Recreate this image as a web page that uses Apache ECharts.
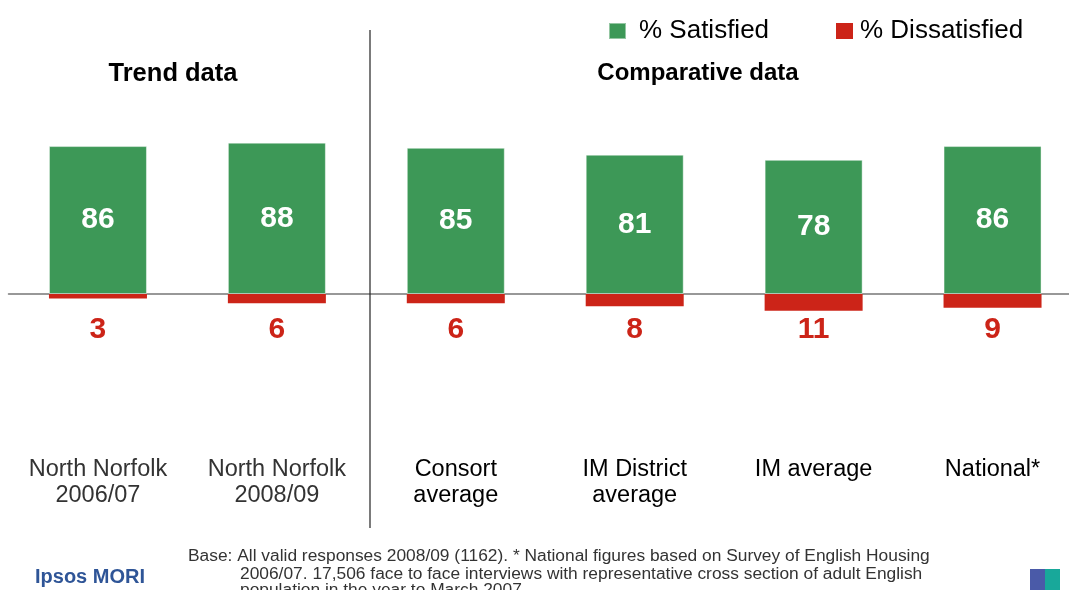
<!DOCTYPE html>
<html>
<head>
<meta charset="utf-8">
<script src="https://cdn.jsdelivr.net/npm/echarts@6/dist/echarts.min.js"></script>
<style>
  html, body { margin: 0; padding: 0; background: #fff; overflow: hidden; }
  /* the plot runs a little past the right edge of the window */
  #chart { width: 1082px; height: 590px; }
</style>
</head>
<body>
<div id="chart"></div>
<script>
// Satisfaction with the landlord: trend and comparative figures
const categories = [
  'North Norfolk\n2006/07',
  'North Norfolk\n2008/09',
  'Consort\naverage',
  'IM District\naverage',
  'IM average',
  'National*'
];
const satisfied = [86, 88, 85, 81, 78, 86];
const dissatisfied = [3, 6, 6, 8, 11, 9];
const trendCount = 2; // the first two categories are the trend group

const GREEN = '#3d9857';
const RED = '#cc2418';
const FONT = 'Liberation Sans, Arial, sans-serif';

// the dissatisfied bars use a slightly tighter vertical scale than the satisfied ones
const mainMin = -30, mainMax = 100;
const redRatio = 1.53 / 1.72;
const redLabelLevel = -21;

const chart = echarts.init(document.getElementById('chart'));

chart.setOption({
  animation: false,
  backgroundColor: '#ffffff',
  textStyle: { fontFamily: FONT },
  title: [
    { text: 'Trend data', left: 168, top: 56, textAlign: 'center',
      textStyle: { fontSize: 25.5, fontWeight: 'bold', color: '#000', fontFamily: FONT } },
    { text: 'Comparative data', left: 693, top: 56, textAlign: 'center',
      textStyle: { fontSize: 24, fontWeight: 'bold', color: '#000', fontFamily: FONT } }
  ],
  legend: [
    { data: ['% Satisfied'], left: 603, top: 13, icon: 'rect', itemWidth: 17, itemHeight: 16,
      textStyle: { fontSize: 26, color: '#000', padding: [0, 0, 0, 8], fontFamily: FONT } },
    { data: ['% Dissatisfied'], left: 831, top: 13, icon: 'rect', itemWidth: 17, itemHeight: 16,
      textStyle: { fontSize: 26, color: '#000', padding: [0, 0, 0, 2], fontFamily: FONT } }
  ],
  grid: { left: 8.5, top: 122, right: 0, height: 223.6, containLabel: false },
  xAxis: {
    type: 'category',
    data: categories.map((c, i) => ({
      value: c,
      textStyle: { color: i < trendCount ? '#333' : '#000' }
    })),
    axisLine: { onZero: true, lineStyle: { color: '#777', width: 1.5 } },
    axisTick: { show: false },
    axisLabel: {
      margin: 111,
      fontSize: 23.5,
      lineHeight: 26,
      fontFamily: FONT,
      interval: 0
    },
    splitLine: { show: false }
  },
  yAxis: [
    { type: 'value', min: mainMin, max: mainMax, show: false, splitLine: { show: false } },
    { type: 'value', min: mainMin / redRatio, max: mainMax / redRatio, show: false, splitLine: { show: false } }
  ],
  graphic: [
    { type: 'line', shape: { x1: 370, y1: 30, x2: 370, y2: 528 },
      style: { stroke: '#222', lineWidth: 1.2 }, z: 10 },
    { type: 'text', x: 188, y: 549, scaleX: 1.085,
      style: { text: 'Base: All valid responses 2008/09 (1162). * National figures based on Survey of English Housing',
        font: '16px ' + FONT, fill: '#333' } },
    { type: 'text', x: 240, y: 567, scaleX: 1.085,
      style: { text: '2006/07. 17,506 face to face interviews with representative cross section of adult English',
        font: '16px ' + FONT, fill: '#333' } },
    { type: 'text', x: 240, y: 583, scaleX: 1.085,
      style: { text: 'population in the year to March 2007.',
        font: '16px ' + FONT, fill: '#333' } },
    { type: 'text', left: 35, top: 567,
      style: { text: 'Ipsos MORI', font: 'bold 20px ' + FONT, fill: '#2f5597' } },
    { type: 'rect', shape: { x: 1030, y: 569, width: 15, height: 21 }, style: { fill: '#4a5aa8' } },
    { type: 'rect', shape: { x: 1045, y: 569, width: 15, height: 21 }, style: { fill: '#18a89a' } }
  ],
  series: [
    {
      name: '% Satisfied',
      type: 'bar',
      yAxisIndex: 0,
      data: satisfied,
      barWidth: 98,
      barGap: '-100%',
      itemStyle: { color: GREEN, borderColor: 'rgba(255,255,255,0.45)', borderWidth: 1 },
      label: {
        show: true, position: 'inside', color: '#fff',
        fontSize: 30, fontWeight: 'bold', fontFamily: FONT
      }
    },
    {
      name: '% Dissatisfied',
      type: 'bar',
      yAxisIndex: 1,
      data: dissatisfied.map(v => -v),
      barWidth: 98,
      itemStyle: { color: RED }
    },
    {
      // value labels for the dissatisfied bars, set on one level below the axis
      name: 'dissatisfied-labels',
      type: 'scatter',
      yAxisIndex: 0,
      symbolSize: 0,
      silent: true,
      itemStyle: { color: RED, opacity: 1 },
      data: dissatisfied.map((v, i) => [i, redLabelLevel, v]),
      label: {
        show: true, position: 'inside', color: RED,
        fontSize: 30, fontWeight: 'bold', fontFamily: FONT,
        formatter: p => p.data[2]
      }
    }
  ]
});
</script>
</body>
</html>
